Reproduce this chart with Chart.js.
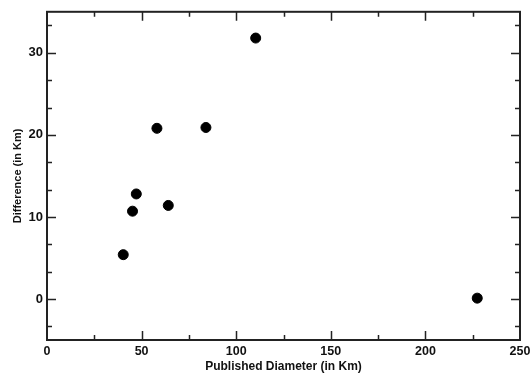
<!DOCTYPE html>
<html>
<head>
<meta charset="utf-8">
<script src="https://cdn.jsdelivr.net/npm/chart.js@4.4.0/dist/chart.umd.min.js"></script>
<style>
    html, body { margin: 0; padding: 0; background: #fff; }
    #wrap { width: 532px; height: 374px; position: relative; }
</style>
</head>
<body>
<div id="wrap"><canvas id="chart"></canvas></div>
<script>
// Published diameter vs. difference (both in km)
const diameters = [40.3, 45.2, 47.2, 58.1, 64.1, 84.0, 110.3, 227.4];
const differences = [5.4, 10.7, 12.8, 20.8, 11.4, 20.9, 31.8, 0.1];

const xTicks = [0, 50, 100, 150, 200, 250];
const xMinorTicks = [25, 75, 125, 175, 225];
const yTicks = [0, 10, 20, 30];
const yMinorTicks = [-10 / 3, 10 / 3, 20 / 3, 40 / 3, 50 / 3, 70 / 3, 80 / 3, 100 / 3];

const points = diameters.map((d, i) => ({ x: d, y: differences[i] }));

// Inward ticks on all four sides plus the box around the plot
const frameTicks = {
    id: 'frameTicks',
    afterDraw(chart) {
        const ctx = chart.ctx;
        const area = chart.chartArea;
        const xs = chart.scales.x;
        const ys = chart.scales.y;
        const major = 9, minor = 5;

        ctx.save();
        ctx.strokeStyle = '#222';
        ctx.lineWidth = 1.5;

        const drawX = (vals, len) => {
            vals.forEach(v => {
                const px = Math.round(xs.getPixelForValue(v)) + 0.5;
                ctx.beginPath();
                ctx.moveTo(px, area.bottom);
                ctx.lineTo(px, area.bottom - len);
                ctx.moveTo(px, area.top);
                ctx.lineTo(px, area.top + len);
                ctx.stroke();
            });
        };
        const drawY = (vals, len) => {
            vals.forEach(v => {
                const py = Math.round(ys.getPixelForValue(v)) + 0.5;
                ctx.beginPath();
                ctx.moveTo(area.left, py);
                ctx.lineTo(area.left + len, py);
                ctx.moveTo(area.right, py);
                ctx.lineTo(area.right - len, py);
                ctx.stroke();
            });
        };
        drawX(xTicks.slice(1, -1), major);
        drawX(xMinorTicks, minor);
        drawY(yTicks, major);
        drawY(yMinorTicks, minor);

        ctx.lineWidth = 2;
        ctx.strokeRect(area.left, area.top, area.right - area.left, area.bottom - area.top);
        ctx.restore();
    }
};

const fontFamily = '"Liberation Sans", Arial, sans-serif';

new Chart(document.getElementById('chart'), {
    type: 'scatter',
    data: {
        datasets: [{
            data: points,
            backgroundColor: '#000',
            borderColor: '#000',
            pointRadius: 5,
            pointHoverRadius: 5
        }]
    },
    options: {
        responsive: true,
        maintainAspectRatio: false,
        animation: false,
        layout: { padding: { top: 10, right: 12, left: 0, bottom: 0 } },
        plugins: {
            legend: { display: false },
            tooltip: { enabled: false }
        },
        scales: {
            x: {
                type: 'linear',
                min: 0,
                max: 250,
                afterBuildTicks: (scale) => { scale.ticks = xTicks.map(v => ({ value: v })); },
                afterFit: (scale) => {
                    scale.height = 34;
                    // let the end labels overhang instead of shrinking the plot
                    scale.paddingLeft = 0;
                    scale.paddingRight = 0;
                },
                grid: { display: false, drawTicks: false },
                border: { display: false },
                ticks: { color: '#111', font: { family: fontFamily, size: 12.5, weight: 'bold' }, padding: 4, maxRotation: 0 },
                title: {
                    display: true,
                    text: 'Published Diameter (in Km)',
                    color: '#111',
                    font: { family: fontFamily, size: 12, weight: 'bold' },
                    padding: { top: 0, bottom: 0 }
                }
            },
            y: {
                type: 'linear',
                min: -5,
                max: 35,
                afterBuildTicks: (scale) => { scale.ticks = yTicks.map(v => ({ value: v })); },
                afterFit: (scale) => { scale.width = 47; },
                grid: { display: false, drawTicks: false },
                border: { display: false },
                ticks: { color: '#111', font: { family: fontFamily, size: 13, weight: 'bold' }, padding: 4 },
                title: {
                    display: true,
                    text: 'Difference (in Km)',
                    color: '#111',
                    font: { family: fontFamily, size: 11, weight: 'bold' },
                    padding: { top: 11, bottom: 0 }
                }
            }
        }
    },
    plugins: [frameTicks]
});
</script>
</body>
</html>
